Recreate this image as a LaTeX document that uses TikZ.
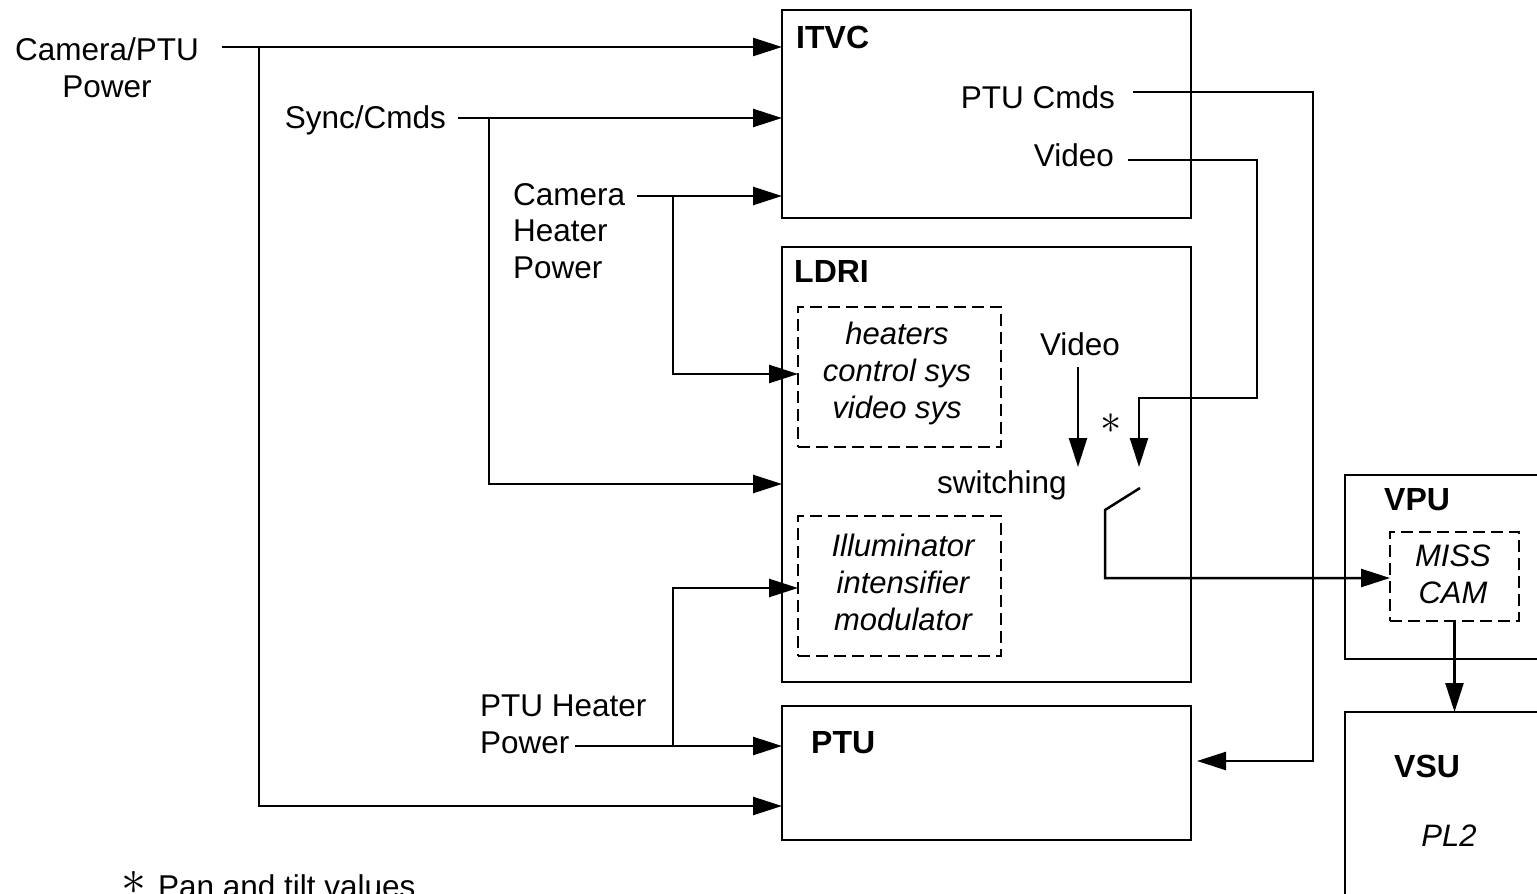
\documentclass[tikz,border=0pt]{standalone}
\usepackage{fontspec}
\setmainfont{Liberation Sans}
\usetikzlibrary{arrows.meta}
\begin{document}
\begin{tikzpicture}[x=1pt,y=-1pt,
  lw/.style={line width=2.5pt},
  blk/.style={draw, lw, anchor=north west, inner sep=0pt, outer sep=0pt},
  dblk/.style={draw, line width=2.1pt, dash pattern=on 12pt off 6pt, anchor=north west, inner sep=0pt, outer sep=0pt},
  wire/.style={lw},
  arr/.style={lw, -{Triangle[length=29pt,width=18pt]}},
  txt/.style={font=\fontsize{31.5}{36.5}\selectfont, inner sep=0pt, align=center},
  btxt/.style={font=\fontsize{32}{36}\selectfont\bfseries, inner sep=0pt},
  itxt/.style={font=\fontsize{31}{37}\selectfont\itshape, inner sep=0pt, align=center},
]
\useasboundingbox (0,0) rectangle (1537,894);

% blocks
\node[blk, minimum width=409pt, minimum height=208pt] (itvc) at (782,10) {};
\node[blk, minimum width=409pt, minimum height=435pt] (ldri) at (782,247) {};
\node[blk, minimum width=409pt, minimum height=134pt] (ptu) at (782,706) {};
\node[blk, minimum width=230pt, minimum height=184pt] (vpu) at (1345,475) {};
\node[blk, minimum width=230pt, minimum height=220pt] (vsu) at (1345,712) {};
\node[dblk, minimum width=203pt, minimum height=140pt] (heat) at (798,307) {};
\node[dblk, minimum width=203pt, minimum height=140pt] (illum) at (798,516) {};
\node[dblk, minimum width=129pt, minimum height=89pt] (miss) at (1390,532) {};

% block titles
\node[btxt, anchor=base west] (itvcl) at (796,48) {ITVC};
\node[btxt, anchor=base west] (ldril) at (794,282) {LDRI};
\node[btxt, anchor=base west] (ptul) at (811,753) {PTU};
\node[btxt, anchor=base west] (vpul) at (1384,510) {VPU};
\node[btxt, anchor=base west] (vsul) at (1394,777) {VSU};
\node[itxt, anchor=base] (pl2) at (1449,846) {PL2};

% inner texts (base anchor = last line)
\node[itxt, anchor=base] (heatl) at (897,418) {heaters\\control sys\\video sys};
\node[itxt, anchor=base] (illuml) at (903,630) {Illuminator\\intensifier\\modulator};
\node[itxt, anchor=base] (missl) at (1453,603) {MISS\\CAM};

% signal labels
\node[txt, anchor=base] (campow) at (107,97) {Camera/PTU\\Power};
\node[txt, anchor=base east] (sync) at (446,128) {Sync/Cmds};
\node[txt, anchor=base west, align=left] (camheat) at (513,278) {Camera\\Heater\\Power};
\node[txt, anchor=base west, align=left] (ptuheat) at (480,753) {PTU Heater\\Power};
\node[txt, anchor=base east] (ptucmds) at (1115,108) {PTU Cmds};
\node[txt, anchor=base east] (itvcvid) at (1114,166) {Video};
\node[txt, anchor=base] (ldrivid) at (1080,355) {Video};
\node[txt, anchor=base] (sw) at (1002,493) {switching};
\node[txt] (star) at (1111,424) {\scalebox{1.7}{$\ast$}};
\node[txt, anchor=base west] (foot) at (121,897) {\raisebox{3pt}{\scalebox{2.0}{$\ast$}}\hspace{12pt}Pan and tilt values};

% coordinates
\coordinate (c1) at (222,47);
\coordinate (b1) at (259,47);
\coordinate (s1) at (458,118);
\coordinate (b2) at (489,118);
\coordinate (h1) at (637,196);
\coordinate (b3) at (673,196);
\coordinate (p1) at (575,746);
\coordinate (b4) at (673,746);
\coordinate (pc) at (1133,92);
\coordinate (pcr) at (1313,92);
\coordinate (vc) at (1128,160);
\coordinate (vcr) at (1257,160);
\coordinate (vcd) at (1257,398);
\coordinate (sa) at (1139,398);
\coordinate (sb) at (1139,467);
\coordinate (va) at (1078,367);
\coordinate (vb) at (1078,467);
\coordinate (k1) at (1140,488);
\coordinate (k2) at (1105,510);

% connectors
\draw[arr] (c1) -- (c1 -| itvc.west);
\draw[arr] (b1) |- (ptu.west |- 0,806);
\draw[arr] (s1) -- (s1 -| itvc.west);
\draw[arr] (b2) |- (ldri.west |- 0,484);
\draw[arr] (h1) -- (h1 -| itvc.west);
\draw[arr] (b3) |- (heat.west |- 0,374);
\draw[arr] (p1) -- (p1 -| ptu.west);
\draw[arr] (b4) |- (illum.west |- 0,588);
\draw[arr, shorten >=6pt] (pc) -- (pcr) |- (ptu.east |- 0,761);
\draw[arr] (vc) -- (vcr) -- (vcd) -- (sa) -- (sb);
\draw[arr] (va) -- (vb);
\draw[arr] (k1) -- (k2) |- (miss.west |- 0,578);
\draw[arr] (miss.south) -- (miss.south |- vsu.north);
\end{tikzpicture}
\end{document}
